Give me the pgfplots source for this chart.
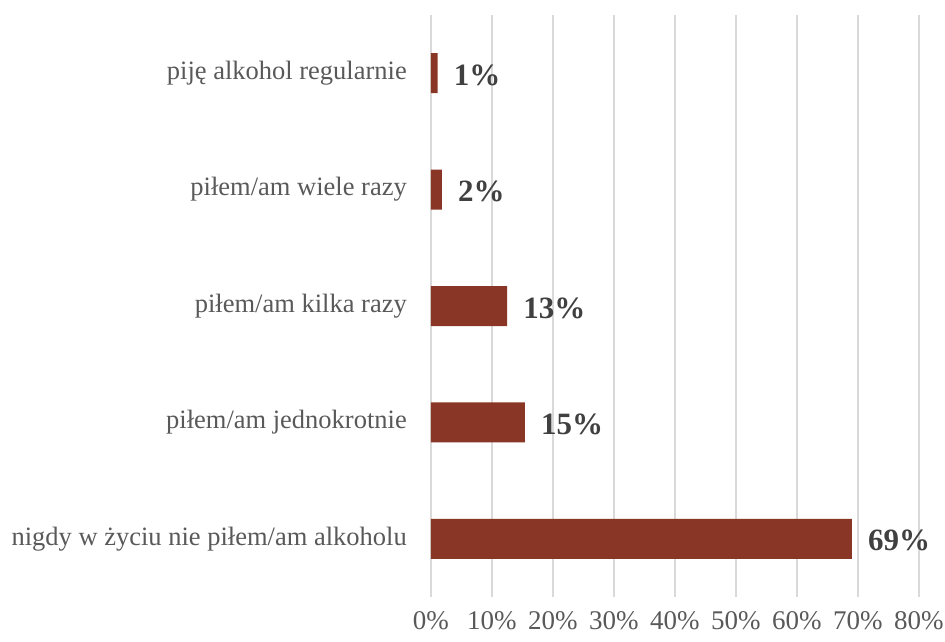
\documentclass[border=0pt]{standalone}
\usepackage{fontspec}
\setmainfont{Liberation Serif}
\usepackage{pgfplots}
\pgfplotsset{compat=1.18}
\definecolor{barred}{RGB}{137,54,38}
\definecolor{gridgray}{RGB}{217,217,217}
\definecolor{txtgray}{RGB}{89,89,89}
\definecolor{lblgray}{RGB}{64,64,64}

\begin{document}
\begin{tikzpicture}
\begin{axis}[
    at={(0pt,0pt)}, anchor=south west,
    scale only axis,
    width=488pt, height=582pt,
    xmin=0, xmax=80,
    ymin=-0.5, ymax=4.5,
    xtick={0,10,...,80},
    ytick={0,1,2,3,4},
    yticklabels={nigdy w życiu nie piłem/am alkoholu, piłem/am jednokrotnie, piłem/am kilka razy, piłem/am wiele razy, piję alkohol regularnie},
    xticklabel={\pgfmathprintnumber{\tick}\%},
    /pgf/number format/assume math mode=true,
    xmajorgrids,
    major grid style={draw=gridgray, line width=1.5pt},
    axis line style={draw=none},
    major tick length=0pt,
    tick style={draw=none},
    xticklabel style={font=\fontsize{27}{30}\selectfont, text=txtgray, inner sep=0pt, anchor=north, yshift=-14pt},
    yticklabel style={font=\fontsize{26.5}{30}\selectfont, text=txtgray, inner sep=0pt, anchor=east, xshift=-24pt},
    clip=false,
]
\addplot[xbar, fill=barred, draw=none, bar width=40pt,
    nodes near coords, point meta=explicit symbolic,
    every node near coord/.append style={font=\bfseries\fontsize{31}{34}\selectfont, text=lblgray, anchor=west, inner sep=0pt, xshift=16pt, yshift=-2pt}]
coordinates {
    (69.0,0) [69\%]
    (15.4,1) [15\%]
    (12.5,2) [13\%]
    (1.8,3) [2\%]
    (1.1,4) [1\%]
};
\end{axis}
\pgfresetboundingbox
\path[use as bounding box] (-431pt,-44pt) rectangle (514pt,597pt);
\end{tikzpicture}
\end{document}
